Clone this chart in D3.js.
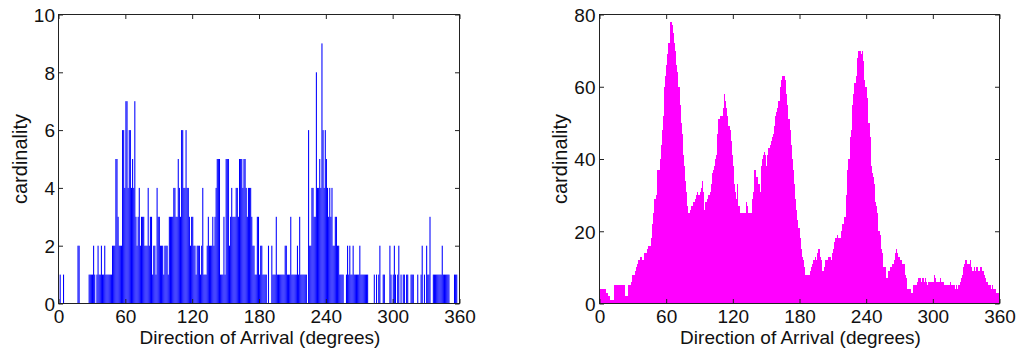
<!DOCTYPE html>
<html>
<head>
<meta charset="utf-8">
<script src="https://cdn.jsdelivr.net/npm/d3@7"></script>
<style>
  html, body { margin: 0; padding: 0; background: #fff; }
  svg { display: block; }
  text { font-family: "Liberation Sans", Arial, sans-serif; fill: #111; }
</style>
</head>
<body>
<svg id="chart" width="1016" height="351"></svg>
<script>
// ---- data (1-degree bins, 0..359) ----
const degrees = d3.range(360);

// Left panel: raw histogram counts per degree
const countsRaw = [
  0,1,0,0,1,0,0,0,0,0,
  0,0,0,0,0,0,0,2,2,0,
  0,0,0,0,0,0,0,1,1,1,
  1,2,1,0,1,2,1,1,2,1,
  1,2,1,1,1,1,1,1,2,2,
  2,5,5,3,2,2,2,6,6,4,
  7,7,4,6,6,4,5,4,7,3,
  2,3,4,2,3,3,3,2,2,2,
  4,2,3,3,1,2,2,1,4,3,
  3,2,2,2,1,2,2,2,1,3,
  3,3,3,4,4,3,3,5,4,3,
  6,6,4,4,6,4,4,3,2,3,
  3,2,2,1,2,2,2,1,2,4,
  1,1,1,2,3,2,2,2,3,2,
  3,4,5,5,5,1,1,1,3,1,
  5,5,5,2,3,4,3,3,3,4,
  4,3,5,5,5,4,5,5,4,3,
  4,4,4,3,2,2,1,1,3,3,
  1,2,2,1,1,1,1,0,2,0,
  0,2,1,1,1,3,1,1,1,1,
  1,1,1,2,2,1,1,1,3,1,
  1,1,1,1,2,1,3,1,1,1,
  1,1,1,0,6,2,2,4,4,3,
  3,8,4,4,5,4,9,6,4,6,
  5,4,3,4,3,4,2,2,3,3,
  2,2,1,1,1,1,0,0,1,2,
  1,2,1,1,2,1,1,1,1,1,
  2,1,1,1,1,1,1,1,0,0,
  0,0,0,1,0,1,0,1,2,0,
  0,1,1,0,0,0,0,2,1,0,
  1,2,1,0,1,2,0,1,0,1,
  1,0,1,1,0,0,1,1,1,0,
  0,0,1,0,0,1,2,0,1,0,
  2,1,1,3,0,0,1,1,1,1,
  1,1,1,1,2,1,1,1,1,1,
  1,0,0,0,0,1,1,1,0,0
];

// Right panel: accumulated cardinality per degree
const countsAccum = [
  4,4,4,4,4,4,3,3,2,1,
  1,1,1,5,5,5,5,5,5,5,
  5,5,5,2,2,2,5,5,6,8,
  8,8,9,10,11,12,13,13,12,12,
  14,14,14,15,16,16,18,22,25,29,
  29,30,37,37,40,44,48,52,60,63,
  66,69,72,78,78,77,75,72,70,66,
  64,60,55,50,47,41,38,34,31,27,
  25,26,27,27,28,28,29,30,31,30,
  31,32,34,31,26,28,28,29,30,31,
  33,36,37,38,40,41,47,51,52,52,
  52,54,58,56,54,52,49,48,45,41,
  38,33,31,29,33,27,25,25,25,25,
  25,25,28,27,25,25,25,29,31,37,
  37,35,35,33,31,38,40,41,42,41,
  38,41,43,44,45,46,47,49,52,53,
  54,56,60,62,63,63,63,62,58,55,
  51,48,44,40,37,33,29,26,23,21,
  18,15,13,12,10,8,8,8,8,9,
  10,11,12,12,13,12,14,15,13,12,
  9,9,10,12,12,12,13,13,12,14,
  15,17,18,18,19,18,18,20,22,22,
  24,24,30,37,40,46,48,55,58,61,
  61,63,68,70,70,69,70,67,62,60,
  60,57,50,46,38,36,35,33,28,27,
  25,20,19,15,14,10,10,10,7,7,
  9,10,10,11,11,12,14,15,14,13,
  12,12,11,11,11,8,7,4,4,4,
  3,3,5,5,5,5,6,7,7,6,
  7,7,6,7,6,5,6,6,6,6,
  6,8,7,6,6,6,7,6,6,6,
  5,5,5,5,5,6,5,5,5,5,
  4,5,4,5,6,7,8,10,11,12,
  12,11,11,12,10,9,9,10,9,10,
  10,9,10,10,9,9,8,7,6,6,
  5,5,4,5,4,4,4,3,3,3
];

const xTicks = [0, 60, 120, 180, 240, 300, 360];
const yTicksLeft = [0, 2, 4, 6, 8, 10];
const yTicksRight = [0, 20, 40, 60, 80];
const xLabel = "Direction of Arrival (degrees)";
const yLabel = "cardinality";

// ---- drawing ----
const svg = d3.select("#chart");

function panel(opts) {
  const x = d3.scaleLinear().domain([0, 360]).range([opts.left, opts.right]);
  const y = d3.scaleLinear().domain([0, opts.ymax]).range([opts.bottom, opts.top]);
  const g = svg.append("g");

  const step = x(1) - x(0);
  g.append("g")
    .attr("shape-rendering", opts.crisp ? "crispEdges" : "auto")
    .selectAll("rect")
    .data(degrees.filter(d => opts.values[d] > 0))
    .join("rect")
    .attr("x", d => x(d) + opts.inset)
    .attr("width", step * opts.widthFrac)
    .attr("y", d => y(opts.values[d]))
    .attr("height", d => y(0) - y(opts.values[d]))
    .attr("fill", opts.color);

  const axisColor = "#222";
  const tl = 4.5;
  // box
  g.append("rect")
    .attr("x", opts.left).attr("y", opts.top)
    .attr("width", opts.right - opts.left).attr("height", opts.bottom - opts.top)
    .attr("fill", "none").attr("stroke", axisColor).attr("stroke-width", 1);

  // bottom axis (inward ticks) + labels
  const bottom = d3.axisBottom(x).tickValues(xTicks).tickSizeInner(-tl).tickSizeOuter(0);
  const ga = g.append("g").attr("transform", `translate(0,${opts.bottom})`).call(bottom);
  ga.select(".domain").remove();
  ga.selectAll("line").attr("stroke", axisColor);
  ga.selectAll("text").attr("font-size", 19).attr("fill", "#111")
    .attr("font-family", "Liberation Sans, Arial, sans-serif").attr("y", 19.5).attr("dy", 0);

  // top ticks
  const top = d3.axisTop(x).tickValues(xTicks).tickSizeInner(-tl).tickSizeOuter(0).tickFormat("");
  const gt = g.append("g").attr("transform", `translate(0,${opts.top})`).call(top);
  gt.select(".domain").remove();
  gt.selectAll("line").attr("stroke", axisColor);

  // left axis
  const left = d3.axisLeft(y).tickValues(opts.yTicks).tickSizeInner(-tl).tickSizeOuter(0);
  const gl = g.append("g").attr("transform", `translate(${opts.left},0)`).call(left);
  gl.select(".domain").remove();
  gl.selectAll("line").attr("stroke", axisColor);
  gl.selectAll("text").attr("font-size", 19).attr("fill", "#111")
    .attr("font-family", "Liberation Sans, Arial, sans-serif").attr("x", -opts.ylabPad).attr("dy", "0.36em");

  // right ticks
  const right = d3.axisRight(y).tickValues(opts.yTicks).tickSizeInner(-tl).tickSizeOuter(0).tickFormat("");
  const gr = g.append("g").attr("transform", `translate(${opts.right},0)`).call(right);
  gr.select(".domain").remove();
  gr.selectAll("line").attr("stroke", axisColor);

  // axis titles
  g.append("text")
    .attr("x", (opts.left + opts.right) / 2 + 1)
    .attr("y", 344)
    .attr("text-anchor", "middle")
    .attr("font-size", 19)
    .text(xLabel);

  g.append("text")
    .attr("transform", `translate(${opts.yTitleX},${(opts.top + opts.bottom) / 2}) rotate(-90)`)
    .attr("text-anchor", "middle")
    .attr("font-size", 20)
    .text(yLabel);
}

panel({
  left: 58.5, right: 459.5, top: 14.5, bottom: 303.5, ymax: 10,
  values: countsRaw, color: "#0000ff", yTicks: yTicksLeft,
  widthFrac: 0.95, inset: 0.05, ylabPad: 3.5, yTitleX: 27, crisp: false
});

panel({
  left: 599.5, right: 999.5, top: 14.5, bottom: 303.5, ymax: 80,
  values: countsAccum, color: "#ff00ff", yTicks: yTicksRight,
  widthFrac: 1.0, inset: 0, ylabPad: 4, yTitleX: 567, crisp: true
});
</script>
</body>
</html>
